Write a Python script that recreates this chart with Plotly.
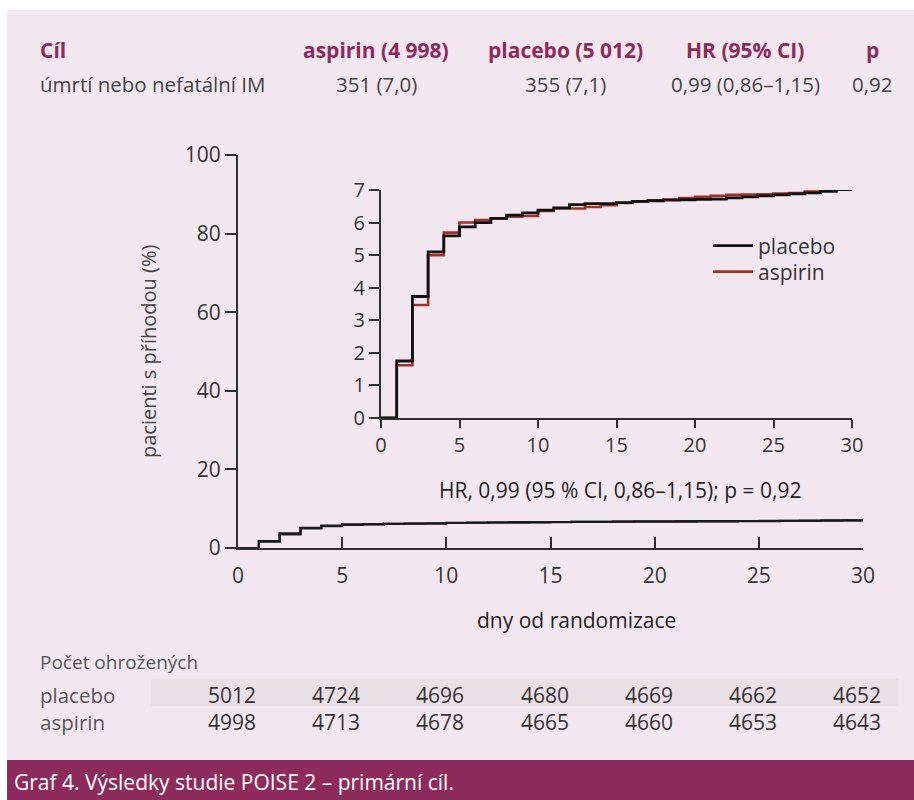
import plotly.graph_objects as go

# ---------------- data ----------------
days = list(range(0, 31))
placebo_pct = [0, 1.75, 3.73, 5.10, 5.59, 5.87, 6.00, 6.13, 6.23, 6.30, 6.38, 6.45, 6.55, 6.58, 6.58,
               6.61, 6.65, 6.67, 6.69, 6.70, 6.71, 6.72, 6.76, 6.79, 6.82, 6.85, 6.88, 6.91, 6.96, 7.01, 7.03]
aspirin_pct = [0, 1.62, 3.47, 5.00, 5.69, 6.00, 6.08, 6.13, 6.18, 6.20, 6.36, 6.43, 6.43, 6.48, 6.53,
               6.60, 6.65, 6.68, 6.71, 6.75, 6.79, 6.82, 6.85, 6.86, 6.87, 6.89, 6.91, 6.95, 7.01, 7.04, 7.06]

main_xticks = [0, 5, 10, 15, 20, 25, 30]
main_yticks = [0, 20, 40, 60, 80, 100]
inset_yticks = [0, 1, 2, 3, 4, 5, 6, 7]

header_cols = ["Cíl", "aspirin (4 998)", "placebo (5 012)", "HR (95% CI)", "p"]
header_row = ["úmrtí nebo nefatální IM", "351 (7,0)", "355 (7,1)", "0,99 (0,86–1,15)", "0,92"]

risk_days = [0, 5, 10, 15, 20, 25, 30]
risk_placebo = [5012, 4724, 4696, 4680, 4669, 4662, 4652]
risk_aspirin = [4998, 4713, 4678, 4665, 4660, 4653, 4643]

hr_text = "HR, 0,99 (95 % CI, 0,86–1,15); p = 0,92"
caption = "Graf 4. Výsledky studie POISE 2 – primární cíl."

# ---------------- style ----------------
W, H = 914, 800
BG = "#f3e7ef"
MAROON = "#8c2b5c"
AX = "#2e2e2e"
TXT = "#333333"
RED = "#a0302e"
FONT = "Open Sans, DejaVu Sans, sans-serif"


def px(x):
    return x / W


def py(y):
    return 1 - y / H


fig = go.Figure()

# main chart (both arms, overlapping)
fig.add_trace(go.Scatter(x=days, y=aspirin_pct, mode="lines", line=dict(color="#222222", width=2.2, shape="hv"),
                         xaxis="x", yaxis="y", showlegend=False, hoverinfo="skip"))
fig.add_trace(go.Scatter(x=days, y=placebo_pct, mode="lines", line=dict(color="#1a1a1a", width=2.2, shape="hv"),
                         xaxis="x", yaxis="y", showlegend=False, hoverinfo="skip"))
# inset
fig.add_trace(go.Scatter(x=days, y=aspirin_pct, mode="lines", name="aspirin", legend="legend2",
                         line=dict(color=RED, width=2.6, shape="hv"), xaxis="x2", yaxis="y2"))
fig.add_trace(go.Scatter(x=days, y=placebo_pct, mode="lines", name="placebo", legend="legend",
                         line=dict(color="#111111", width=2.8, shape="hv"), xaxis="x2", yaxis="y2"))

axis_common = dict(showgrid=False, zeroline=False, showline=True, linecolor=AX, linewidth=2,
                   tickcolor=AX, tickwidth=2, fixedrange=True)
legend_common = dict(xanchor="left", yanchor="middle", bgcolor="rgba(0,0,0,0)",
                     font=dict(size=21, color=TXT, family=FONT), itemwidth=40)

fig.update_layout(
    width=W, height=H,
    margin=dict(l=0, r=0, t=0, b=0, pad=0, autoexpand=False),
    paper_bgcolor=BG, plot_bgcolor="rgba(0,0,0,0)",
    font=dict(family=FONT, color=TXT),
    xaxis=dict(domain=[px(238), px(863)], range=[0, 30], tickvals=main_xticks, ticks="inside", ticklen=11,
               tickfont=dict(size=21, color=TXT, family=FONT), ticklabelstandoff=8, anchor="y", **axis_common),
    yaxis=dict(domain=[py(548), py(155)], range=[0, 100], tickvals=main_yticks, ticks="outside", ticklen=11,
               tickfont=dict(size=21, color=TXT, family=FONT), anchor="x", **axis_common),
    xaxis2=dict(domain=[px(381), px(852)], range=[0, 30], tickvals=main_xticks, ticks="outside", ticklen=8,
                tickfont=dict(size=20, color=TXT, family=FONT), anchor="y2", **axis_common),
    yaxis2=dict(domain=[py(418), py(190)], range=[0, 7], tickvals=inset_yticks, ticks="outside", ticklen=10,
                tickfont=dict(size=20, color=TXT, family=FONT), anchor="x2", **axis_common),
    legend=dict(x=px(708), y=py(246), **legend_common),
    legend2=dict(x=px(708), y=py(272), **legend_common),
    showlegend=True,
)

shapes = [
    dict(type="rect", xref="paper", yref="paper", x0=0, x1=1, y0=py(10), y1=1, fillcolor="white",
         line=dict(width=0), layer="below"),
    dict(type="rect", xref="paper", yref="paper", x0=0, x1=px(7), y0=0, y1=1, fillcolor="white",
         line=dict(width=0), layer="below"),
    dict(type="rect", xref="paper", yref="paper", x0=px(151), x1=px(898), y0=py(706), y1=py(679),
         fillcolor="#ebdfe6", line=dict(width=0), layer="below"),
    dict(type="rect", xref="paper", yref="paper", x0=px(7), x1=1, y0=0, y1=py(760), fillcolor=MAROON,
         line=dict(width=0), layer="below"),
]
fig.update_layout(shapes=shapes)

ann = []
# header table
head_x = [38, 376, 565, 745, 872]
for i, (h, r) in enumerate(zip(header_cols, header_row)):
    anchor = "left" if i == 0 else "center"
    ann.append(dict(text="<b>%s</b>" % h, x=px(head_x[i]), y=py(50), xref="paper", yref="paper",
                    xanchor=anchor, yanchor="middle", showarrow=False,
                    font=dict(size=21, color=MAROON, family=FONT)))
    ann.append(dict(text=r, x=px(head_x[i]), y=py(84), xref="paper", yref="paper",
                    xanchor=anchor, yanchor="middle", showarrow=False,
                    font=dict(size=20.5, color="#444444", family=FONT)))

# axis titles and HR text
ann.append(dict(text="pacienti s příhodou (%)", x=px(149), y=py(352), xref="paper", yref="paper",
                textangle=-90, showarrow=False, xanchor="center", yanchor="middle",
                font=dict(size=20, color="#444444", family=FONT)))
ann.append(dict(text="dny od randomizace", x=px(576), y=py(620), xref="paper", yref="paper",
                showarrow=False, xanchor="center", yanchor="middle",
                font=dict(size=21, color="#222222", family=FONT)))
ann.append(dict(text=hr_text, x=px(620), y=py(490), xref="paper", yref="paper",
                showarrow=False, xanchor="center", yanchor="middle",
                font=dict(size=21, color="#222222", family=FONT)))

# at-risk table
ann.append(dict(text="Počet ohrožených", x=px(38), y=py(662), xref="paper", yref="paper",
                showarrow=False, xanchor="left", yanchor="middle",
                font=dict(size=19, color="#555555", family=FONT)))
ann.append(dict(text="placebo<br>aspirin", x=px(38), y=py(708), xref="paper", yref="paper",
                showarrow=False, xanchor="left", yanchor="middle", align="left",
                font=dict(size=20.5, color="#555555", family=FONT)))
for d, vp, va in zip(risk_days, risk_placebo, risk_aspirin):
    ann.append(dict(text="%d<br>%d" % (vp, va), x=d, y=py(708), xref="x", yref="paper", xshift=-6,
                    showarrow=False, xanchor="center", yanchor="middle", align="center",
                    font=dict(size=21, color="#333333", family=FONT)))

# caption
ann.append(dict(text=caption, x=px(12), y=py(782), xref="paper", yref="paper",
                showarrow=False, xanchor="left", yanchor="middle",
                font=dict(size=21, color="white", family=FONT)))

fig.update_layout(annotations=ann)

pin = ("var d=document.getElementById('{plot_id}');"
       "document.documentElement.style.margin='0';document.body.style.margin='0';"
       "document.body.style.overflow='hidden';"
       "d.style.position='fixed';d.style.left='0px';d.style.top='0px';")
fig.write_html("out.html", post_script=pin, config={"displayModeBar": False})
